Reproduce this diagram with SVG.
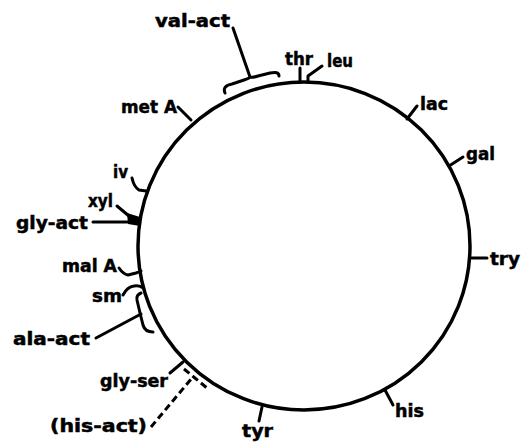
<svg xmlns="http://www.w3.org/2000/svg" width="531" height="442" viewBox="0 0 531 442">
  <style>
    .lbl { font-family: "DejaVu Sans", "Liberation Sans", sans-serif; font-weight: bold; font-size: 17.5px; fill: #000; stroke: #000; stroke-width: 0.5; }
    .ln { fill: none; stroke: #000; stroke-width: 3; stroke-linecap: round; stroke-linejoin: round; }
    .dash { fill: none; stroke: #000; stroke-width: 3; stroke-dasharray: 7 4; }
    .chrom { fill: none; stroke: #000; stroke-width: 3.5; }
  </style>
  <rect width="531" height="442" fill="#fff"/>

  <!-- circular chromosome -->
  <g id="chromosome">
    <ellipse class="chrom" cx="304" cy="246" rx="166" ry="164"/>
  </g>

  <!-- leader lines, ticks and braces -->
  <g id="connectors">
    <line class="ln" x1="233" y1="28" x2="250" y2="77"/>
    <path class="ln" d="M225,93 Q222,86 232,84 L244,80 Q250,78 250,77 Q252,78 258,76 L270,73 Q279,71 279,76"/>
    <line class="ln" x1="300" y1="68" x2="300" y2="82"/>
    <polyline class="ln" points="308,82 308,76 322,66"/>
    <line class="ln" x1="178" y1="107" x2="191" y2="120"/>
    <line class="ln" x1="407" y1="119" x2="417" y2="106"/>
    <line class="ln" x1="449" y1="166" x2="463" y2="157"/>
    <line class="ln" x1="470" y1="258" x2="487" y2="258"/>
    <line class="ln" x1="385" y1="390" x2="393" y2="405"/>
    <line class="ln" x1="262" y1="407" x2="259" y2="421"/>
    <path class="ln" d="M132,178 Q134,187 139,190 L146,191"/>
    <line class="ln" x1="117" y1="206" x2="129" y2="216"/>
    <polygon points="127,213 140,217 140,226 128,224" fill="#000"/>
    <line class="ln" x1="93" y1="222" x2="138" y2="222"/>
    <path class="ln" d="M119,268 Q123,274 128,275 L136,273 Q139,272 141,271"/>
    <path class="ln" d="M123,295 Q127,287 134,286 Q140,285 143,288"/>
    <path class="ln" d="M141,293 Q136,295 137,300 L140,313 L143,325 Q145,332 153,332"/>
    <line class="ln" x1="96" y1="338" x2="141" y2="314"/>
    <line class="ln" x1="170" y1="373" x2="183" y2="362"/>
    <line class="dash" x1="151" y1="427" x2="192" y2="378"/>
    <line class="dash" x1="184" y1="369" x2="207" y2="388"/>
  </g>

  <!-- gene markers -->
  <g id="val-act"><text class="lbl" x="155" y="27" textLength="75" lengthAdjust="spacingAndGlyphs">val-act</text></g>
  <g id="thr"><text class="lbl" x="285" y="65" textLength="28" lengthAdjust="spacingAndGlyphs">thr</text></g>
  <g id="leu"><text class="lbl" x="327" y="67" textLength="26" lengthAdjust="spacingAndGlyphs">leu</text></g>
  <g id="metA"><text class="lbl" x="121" y="113" textLength="56" lengthAdjust="spacingAndGlyphs">met A</text></g>
  <g id="lac"><text class="lbl" x="420" y="110" textLength="28" lengthAdjust="spacingAndGlyphs">lac</text></g>
  <g id="gal"><text class="lbl" x="466" y="160" textLength="29" lengthAdjust="spacingAndGlyphs">gal</text></g>
  <g id="try"><text class="lbl" x="490" y="265" textLength="30" lengthAdjust="spacingAndGlyphs">try</text></g>
  <g id="his"><text class="lbl" x="395" y="417" textLength="29" lengthAdjust="spacingAndGlyphs">his</text></g>
  <g id="tyr"><text class="lbl" x="242" y="437" textLength="31" lengthAdjust="spacingAndGlyphs">tyr</text></g>
  <g id="iv"><text class="lbl" x="113" y="178" textLength="15" lengthAdjust="spacingAndGlyphs">iv</text></g>
  <g id="xyl"><text class="lbl" x="88" y="207" textLength="25" lengthAdjust="spacingAndGlyphs">xyl</text></g>
  <g id="gly-act"><text class="lbl" x="16" y="229" textLength="72" lengthAdjust="spacingAndGlyphs">gly-act</text></g>
  <g id="malA"><text class="lbl" x="62" y="272" textLength="55" lengthAdjust="spacingAndGlyphs">mal A</text></g>
  <g id="sm"><text class="lbl" x="92" y="302" textLength="30" lengthAdjust="spacingAndGlyphs">sm</text></g>
  <g id="ala-act"><text class="lbl" x="13" y="345" textLength="77" lengthAdjust="spacingAndGlyphs">ala-act</text></g>
  <g id="gly-ser"><text class="lbl" x="100" y="387" textLength="68" lengthAdjust="spacingAndGlyphs">gly-ser</text></g>
  <g id="his-act"><text class="lbl" x="50" y="432" textLength="97" lengthAdjust="spacingAndGlyphs">(his-act)</text></g>
</svg>
